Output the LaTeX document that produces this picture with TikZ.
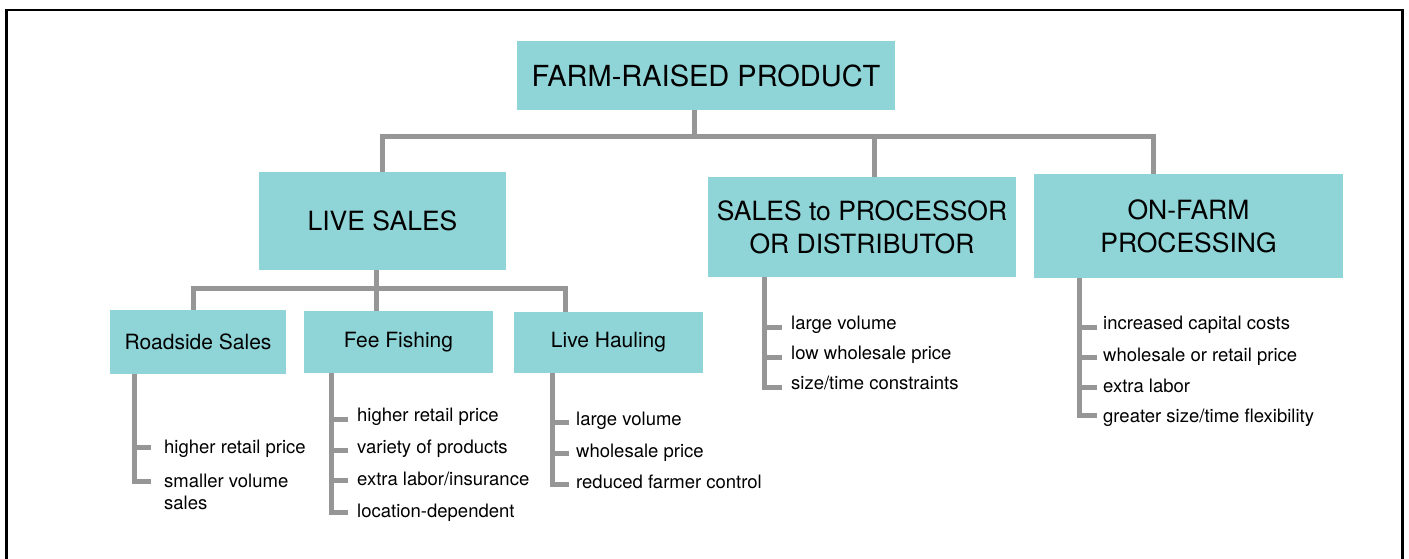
\documentclass[tikz,border=0pt]{standalone}
\usepackage{fontspec}
\setmainfont{TeX Gyre Heros}
\usetikzlibrary{calc}
\definecolor{boxfill}{RGB}{143,212,215}
\definecolor{conngray}{RGB}{150,150,150}
\begin{document}
\begin{tikzpicture}[x=1pt,y=-1pt,
  box/.style={fill=boxfill, inner sep=0pt, align=center, text=black},
  lvla/.style={box, font=\fontsize{29}{33}\selectfont},
  lvlb/.style={box, font=\fontsize{26.5}{33}\selectfont},
  lvlc/.style={box, font=\fontsize{21}{25}\selectfont},
  conn/.style={draw=conngray, line width=5pt, line join=miter},
  item/.style={anchor=base west, inner sep=0pt, align=left, font=\fontsize{18.5}{22}\selectfont},
]
\useasboundingbox (0,0) rectangle (1409,559);
\draw[line width=2.6pt] (6.5,559) -- (6.5,10) -- (1402.5,10) -- (1402.5,559);

% boxes
\node[lvla, minimum width=378pt, minimum height=69pt] (top) at (706,75.5) {FARM-RAISED PRODUCT};
\node[lvlb, minimum width=247pt, minimum height=98pt] (live) at (382.5,221) {LIVE SALES};
\node[lvlb, minimum width=308pt, minimum height=100pt] (sp) at (862,227) {SALES to PROCESSOR\\OR DISTRIBUTOR};
\node[lvlb, minimum width=309pt, minimum height=104pt] (onfarm) at (1188.5,226) {ON-FARM\\PROCESSING};
\node[lvlc, minimum width=176pt, minimum height=64pt] (road) at (198,342) {Roadside Sales};
\node[lvlc, minimum width=189pt, minimum height=62pt] (fee) at (398.5,342) {Fee Fishing};
\node[lvlc, minimum width=189pt, minimum height=61pt] (haul) at (608.5,342.5) {Live Hauling};

% items
\node[item] (r1) at (164,453) {higher retail price};
\node[item, anchor=north west] (r2) at (164,473.7) {smaller volume\\sales};
\node[item] (f1) at (357,421) {higher retail price};
\node[item] (f2) at (357,453) {variety of products};
\node[item] (f3) at (357,485) {extra labor/insurance};
\node[item] (f4) at (357,517) {location-dependent};
\node[item] (h1) at (576,425) {large volume};
\node[item] (h2) at (576,457) {wholesale price};
\node[item] (h3) at (576,488) {reduced farmer control};
\node[item] (s1) at (791,329) {large volume};
\node[item] (s2) at (791,359) {low wholesale price};
\node[item] (s3) at (791,389) {size/time constraints};
\node[item] (o1) at (1103,329) {increased capital costs};
\node[item] (o2) at (1103,361) {wholesale or retail price};
\node[item] (o3) at (1103,392) {extra labor};
\node[item] (o4) at (1103,422.5) {greater size/time flexibility};

% junction coordinates
\coordinate (j1) at (694,137);
\coordinate (xl) at (382,0);
\coordinate (xs) at (874,0);
\coordinate (xo) at (1153,0);
\coordinate (j2) at (376,288);
\coordinate (xr) at (193,0);
\coordinate (xh) at (565,0);
\coordinate (vr) at (134,0);
\coordinate (vf) at (331,0);
\coordinate (vh) at (552,0);
\coordinate (vs) at (764,0);
\coordinate (vo) at (1079,0);

% tree connectors
\draw[conn] (top.south -| j1) -- (j1);
\draw[conn] (live.north -| xl) |- (j1) -- (j1 -| xo) -- (onfarm.north -| xo);
\draw[conn] (j1 -| xs) -- (sp.north -| xs);
\draw[conn] (live.south -| j2) -- (fee.north -| j2);
\draw[conn] (road.north -| xr) |- (j2) -| (haul.north -| xh);

% bullet connectors: Roadside
\draw[conn] (road.south -| vr) -- ($(r2.north west -| vr)+(0,7.3)$) -- ++(17,0);
\draw[conn] ($(r1.base -| vr)+(0,-6)$) -- ++(17,0);
% Fee Fishing
\draw[conn] (fee.south -| vf) -- ($(f4.base -| vf)+(0,-5)$) -- ++(17,0);
\draw[conn] ($(f1.base -| vf)+(0,-2)$) -- ++(17,0);
\draw[conn] ($(f2.base -| vf)+(0,-3)$) -- ++(17,0);
\draw[conn] ($(f3.base -| vf)+(0,-5)$) -- ++(17,0);
% Live Hauling
\draw[conn] (haul.south -| vh) -- ($(h3.base -| vh)+(0,-4)$) -- ++(17,0);
\draw[conn] ($(h1.base -| vh)+(0,-3)$) -- ++(17,0);
\draw[conn] ($(h2.base -| vh)+(0,-4)$) -- ++(17,0);
% Sales to processor
\draw[conn] (sp.south -| vs) -- ($(s3.base -| vs)+(0,-2)$) -- ++(18,0);
\draw[conn] ($(s1.base -| vs)+(0,-2)$) -- ++(18,0);
\draw[conn] ($(s2.base -| vs)+(0,-2)$) -- ++(18,0);
% On-farm
\draw[conn] (onfarm.south -| vo) -- ($(o4.base -| vo)+(0,-7)$) -- ++(18,0);
\draw[conn] ($(o1.base -| vo)+(0,-2)$) -- ++(18,0);
\draw[conn] ($(o2.base -| vo)+(0,-4)$) -- ++(18,0);
\draw[conn] ($(o3.base -| vo)+(0,-5)$) -- ++(18,0);
\end{tikzpicture}
\end{document}
